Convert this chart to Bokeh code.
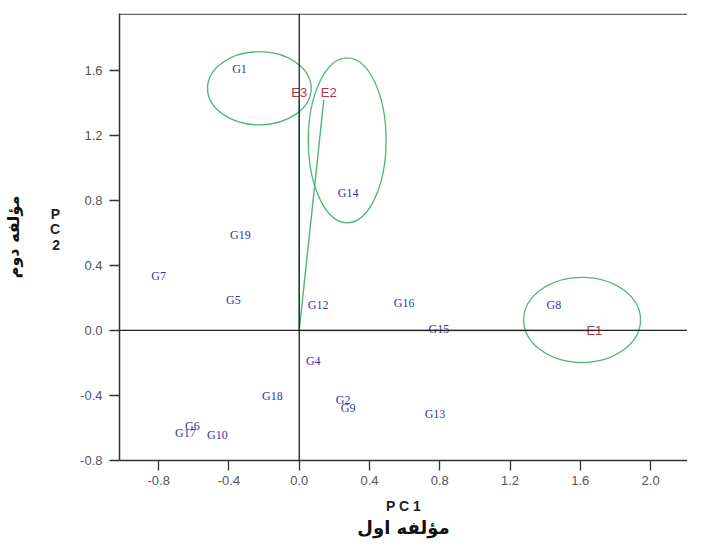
from bokeh.plotting import figure
from bokeh.models import (ColumnDataSource, Span, FixedTicker, Range1d, LinearAxis,
                          CustomJSTickFormatter)
from bokeh.embed import file_html
from bokeh.resources import INLINE
from bokeh.core.properties import value

# ---- data ----
genotypes = ["G1", "G2", "G4", "G5", "G6", "G7", "G8", "G9", "G10", "G12",
             "G13", "G14", "G15", "G16", "G17", "G18", "G19"]
g_pc1 = [-0.34, 0.25, 0.08, -0.375, -0.608, -0.80, 1.449, 0.278, -0.466, 0.108,
         0.773, 0.278, 0.795, 0.597, -0.648, -0.153, -0.335]
g_pc2 = [1.61, -0.43, -0.185, 0.185, -0.585, 0.338, 0.154, -0.48, -0.646, 0.154,
         -0.511, 0.843, 0.012, 0.166, -0.628, -0.406, 0.585]

environments = ["E1", "E2", "E3"]
e_pc1 = [1.68, 0.14, 0.0]
e_pc2 = [0.0, 1.42, 1.42]
e_dx = [0, 5, 0]      # label offsets (px)
e_dy = [0, -7, -7]

ell_x = [-0.227, 0.273, 1.61]
ell_y = [1.49, 1.17, 0.065]
ell_w = [0.59, 0.443, 0.665]
ell_h = [0.45, 1.015, 0.523]

x_ticks = [-0.8, -0.4, 0.0, 0.4, 0.8, 1.2, 1.6, 2.0]
y_ticks = [-0.8, -0.4, 0.0, 0.4, 0.8, 1.2, 1.6]

x_title = "P C 1"
x_title_fa = "مؤلفه اول"
y_title = "P\nC\n2\n "
y_title_fa = "مؤلفه دوم"

X0, X1 = -1.023, 2.21
Y0, Y1 = -0.80, 1.95

p = figure(width=687, height=541, output_backend="svg", toolbar_location=None,
           x_range=Range1d(X0, X1), y_range=Range1d(Y0, Y1),
           min_border_left=118, min_border_right=0, min_border_top=13,
           min_border_bottom=81)
p.outline_line_color = None
p.xgrid.visible = False
p.ygrid.visible = False
p.background_fill_color = "white"
p.border_fill_color = "white"

fmt = CustomJSTickFormatter(code="return tick.toFixed(1);")
for ax, ticks in ((p.xaxis[0], x_ticks), (p.yaxis[0], y_ticks)):
    ax.ticker = FixedTicker(ticks=ticks)
    ax.formatter = fmt
    ax.axis_line_color = "#333333"
    ax.axis_line_width = 1.5
    ax.major_tick_line_color = "#333333"
    ax.major_tick_line_width = 1.3
    ax.major_tick_out = 10
    ax.major_tick_in = 0
    ax.minor_tick_line_color = None
    ax.major_label_text_font = "Liberation Sans"
    ax.major_label_text_font_size = "13px"
    ax.major_label_text_color = "#555555"
    ax.major_label_standoff = 7
    ax.axis_label_text_font = "Liberation Sans"
    ax.axis_label_text_font_style = "bold"
    ax.axis_label_text_font_size = "14px"
    ax.axis_label_text_color = "#222222"

p.xaxis[0].axis_label = x_title
p.xaxis[0].axis_label_standoff = 10
p.xaxis[0].major_label_standoff = 5
p.yaxis[0].axis_label = y_title
p.yaxis[0].axis_label_orientation = "horizontal"
p.yaxis[0].axis_label_standoff = 17
p.yaxis[0].axis_label_text_line_height = 0.95


def title_axis(label, standoff, size):
    a = LinearAxis(axis_label=label, ticker=FixedTicker(ticks=[]))
    a.axis_line_color = None
    a.major_tick_line_color = None
    a.minor_tick_line_color = None
    a.major_label_text_font_size = "0px"
    a.major_tick_out = 0
    a.major_label_standoff = 0
    a.axis_label_text_font = "DejaVu Sans"
    a.axis_label_text_font_style = "bold"
    a.axis_label_text_font_size = size
    a.axis_label_text_color = "#111111"
    a.axis_label_standoff = standoff
    return a


p.add_layout(title_axis(x_title_fa, 0, "18px"), "below")
p.add_layout(title_axis(y_title_fa, 24, "16px"), "left")

# top border line
p.add_layout(Span(location=Y1 - 0.005, dimension="width", line_color="#666666", line_width=1.5))

# vectors to environments
src_e = ColumnDataSource(dict(x0=[0] * len(e_pc1), y0=[0] * len(e_pc2), x=e_pc1, y=e_pc2,
                              name=environments, dx=e_dx, dy=e_dy))
p.segment(x0="x0", y0="y0", x1="x", y1="y", source=src_e, line_color="#4CB872", line_width=1.4)

# zero lines
p.add_layout(Span(location=0, dimension="width", line_color="#222222", line_width=1.3))
p.add_layout(Span(location=0, dimension="height", line_color="#222222", line_width=1.3))

# ellipses
p.ellipse(x=ell_x, y=ell_y, width=ell_w, height=ell_h, fill_color=None,
          line_color="#4CB872", line_width=1.3)

# genotype labels
src_g = ColumnDataSource(dict(x=g_pc1, y=g_pc2, name=genotypes))
p.text(x="x", y="y", text="name", source=src_g, text_align="center", text_baseline="middle",
       text_font=value("Liberation Serif"), text_font_size="12px", text_color="#3434AC")

# environment labels
p.text(x="x", y="y", text="name", source=src_e, x_offset="dx", y_offset="dy",
       text_align="center", text_baseline="middle",
       text_font=value("Liberation Sans"), text_font_size="13px", text_color="#B03545")

open("out.html", "w").write(file_html(p, INLINE))
